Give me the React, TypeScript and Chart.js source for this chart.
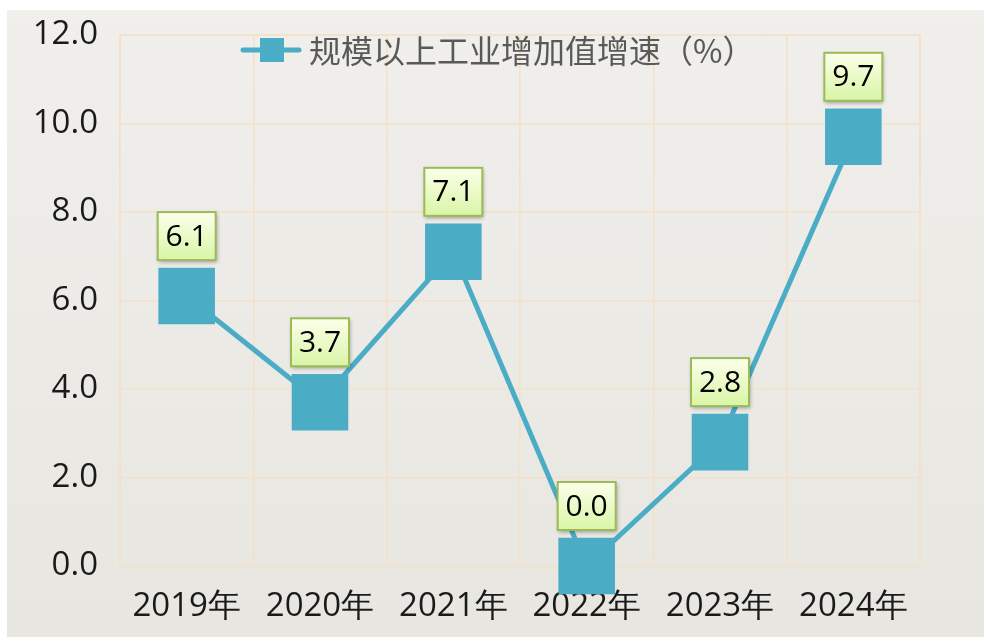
import React, { useEffect, useRef } from "react";
import { Chart, registerables } from "chart.js";

Chart.register(...registerables);

const categories = ["2019年", "2020年", "2021年", "2022年", "2023年", "2024年"];
const growth = [6.1, 3.7, 7.1, 0.0, 2.8, 9.7];
const yTicks = [0, 2, 4, 6, 8, 10, 12];
const seriesName = "规模以上工业增加值增速（%）";

const LINE = "#4bacc6";
const GRID = "#f1e2c8";
const TEXT_FONT = '"Open Sans", "Noto Sans", sans-serif';
const CJK_FONT = '"Noto Sans CJK SC", sans-serif';

const CW = 977;
const CH = 627;

const labelPlugin = {
  id: "boxLabels",
  afterDatasetsDraw(chart: any) {
    const ctx = chart.ctx;
    const meta = chart.getDatasetMeta(0);
    meta.data.forEach((pt: any, i: number) => {
      const x = pt.x;
      const y = pt.y;
      const w = 58;
      const h = 48;
      const bx = x - w / 2;
      const by = y - 28 - 8 - h;
      ctx.save();
      ctx.shadowColor = "rgba(0,0,0,0.35)";
      ctx.shadowBlur = 4;
      ctx.shadowOffsetX = 1;
      ctx.shadowOffsetY = 2;
      const g = ctx.createLinearGradient(0, by, 0, by + h);
      g.addColorStop(0, "#fbffea");
      g.addColorStop(1, "#d9f5a6");
      ctx.fillStyle = g;
      ctx.fillRect(bx, by, w, h);
      ctx.restore();
      ctx.save();
      ctx.strokeStyle = "#9bbb59";
      ctx.lineWidth = 2;
      ctx.strokeRect(bx, by, w, h);
      ctx.fillStyle = "#000";
      ctx.font = `30px ${TEXT_FONT}`;
      ctx.textAlign = "center";
      ctx.textBaseline = "middle";
      ctx.fillText(growth[i].toFixed(1), x, by + h / 2 + 1);
      ctx.restore();
    });
  },
};

const legendPlugin = {
  id: "customLegend",
  afterDraw(chart: any) {
    const ctx = chart.ctx;
    const cy = 40;
    const x0 = 236;
    ctx.save();
    ctx.strokeStyle = LINE;
    ctx.lineWidth = 5;
    ctx.lineCap = "round";
    ctx.beginPath();
    ctx.moveTo(x0, cy);
    ctx.lineTo(x0 + 56, cy);
    ctx.stroke();
    ctx.fillStyle = LINE;
    ctx.fillRect(x0 + 17, cy - 12, 24, 24);
    ctx.fillStyle = "#595959";
    ctx.font = `32px ${CJK_FONT}`;
    ctx.textAlign = "left";
    ctx.textBaseline = "middle";
    ctx.fillText(seriesName, x0 + 66, cy + 1);
    ctx.restore();
  },
};

export default function App() {
  const ref = useRef<HTMLCanvasElement>(null);

  useEffect(() => {
    if (!ref.current) return;
    const chart = new Chart(ref.current, {
      type: "line",
      data: {
        labels: categories,
        datasets: [
          {
            label: seriesName,
            data: growth,
            borderColor: LINE,
            backgroundColor: LINE,
            borderWidth: 5,
            pointStyle: "rect",
            pointRadius: 40,
            pointHoverRadius: 40,
            pointBorderWidth: 0,
            pointBackgroundColor: LINE,
            tension: 0,
            clip: false as any,
          },
        ],
      },
      options: {
        responsive: false,
        animation: false,
        devicePixelRatio: 1,
        layout: { autoPadding: false, padding: { left: 0, top: 25, right: 64, bottom: 0 } },
        plugins: {
          legend: { display: false },
          tooltip: { enabled: false },
        },
        scales: {
          x: {
            type: "category",
            offset: true,
            grid: { color: GRID, lineWidth: 1.5, offset: true, drawTicks: false },
            border: { color: GRID, width: 1.5 },
            ticks: {
              color: "#1a1a1a",
              font: { family: "Open Sans", size: 33 },
              padding: 21,
              maxRotation: 0,
            },
            afterFit(scale: any) {
              scale.height = 71;
              scale.paddingLeft = 0;
              scale.paddingRight = 0;
            },
          },
          y: {
            min: 0,
            max: 12,
            afterBuildTicks(scale: any) {
              scale.ticks = yTicks.map((v) => ({ value: v }));
            },
            grid: { color: GRID, lineWidth: 1.5, drawTicks: false },
            border: { color: GRID, width: 1.5 },
            ticks: {
              color: "#1a1a1a",
              font: { family: "Open Sans", size: 33 },
              padding: 22,
              callback: (v: any) => Number(v).toFixed(1),
            },
            afterFit(scale: any) {
              scale.width = 113;
              scale.paddingTop = 0;
              scale.paddingBottom = 0;
            },
          },
        },
      },
      plugins: [
        {
          id: "topRightBorder",
          beforeDatasetsDraw(chart: any) {
            const { ctx, chartArea } = chart;
            ctx.save();
            ctx.strokeStyle = GRID;
            ctx.lineWidth = 1.5;
            ctx.beginPath();
            ctx.moveTo(chartArea.left, chartArea.top);
            ctx.lineTo(chartArea.right, chartArea.top);
            ctx.lineTo(chartArea.right, chartArea.bottom);
            ctx.stroke();
            ctx.restore();
          },
        },
        labelPlugin,
        legendPlugin,
      ],
    });
    return () => chart.destroy();
  }, []);

  return (
    <div
      style={{
        position: "fixed",
        left: 0,
        top: 0,
        width: 984,
        height: 637,
        background: "#ffffff",
        overflow: "hidden",
      }}
    >
      <div
        style={{
          position: "absolute",
          left: 7,
          top: 10,
          width: CW,
          height: CH,
          background: "linear-gradient(#f0efeb, #e7e6e1)",
        }}
      >
        <canvas ref={ref} width={CW} height={CH} style={{ display: "block" }} />
      </div>
    </div>
  );
}
